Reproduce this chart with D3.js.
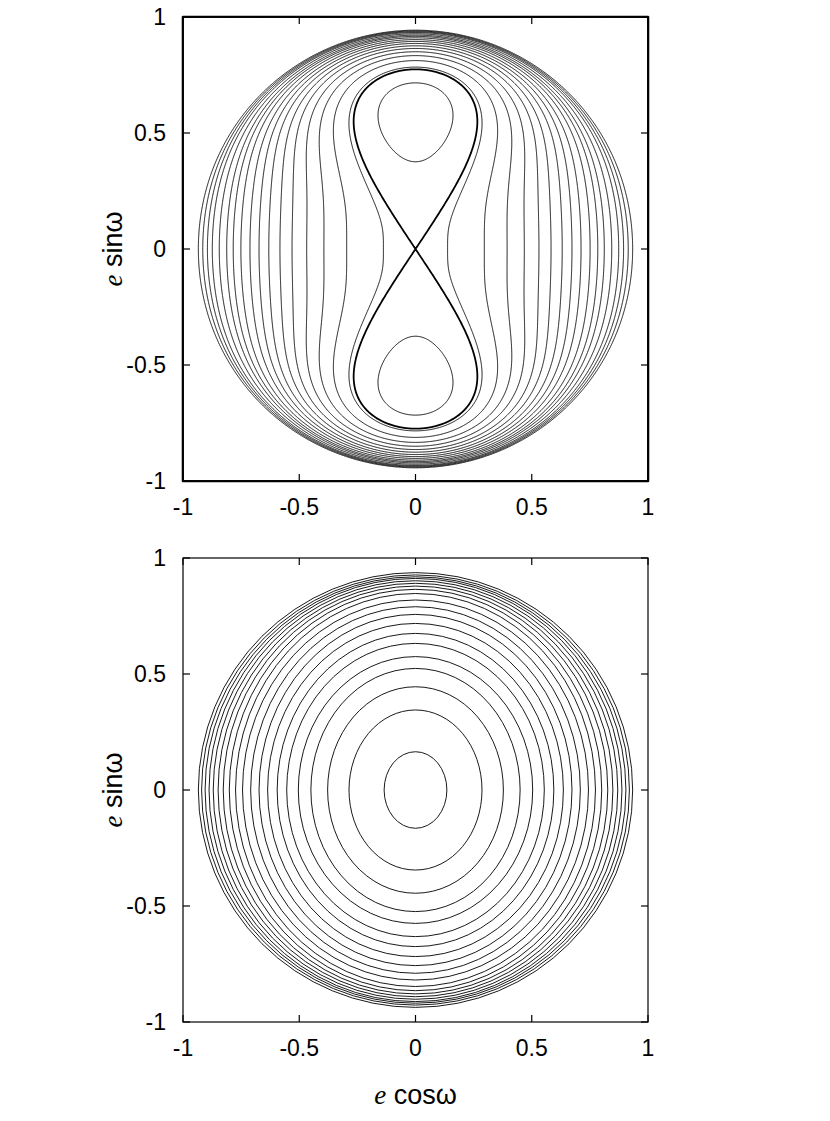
<!DOCTYPE html>
<html>
<head>
<meta charset="utf-8">
<script src="https://cdn.jsdelivr.net/npm/d3@7"></script>
<style>
  body { margin: 0; background: #fff; }
  text { font-family: "Liberation Sans", Arial, sans-serif; fill: #000; }
  .ital { font-family: "Liberation Serif", "DejaVu Serif", serif; font-style: italic; }
</style>
</head>
<body>
<div id="chart"></div>
<script>
// tick values shared by both panels
const ticks = [-1, -0.5, 0, 0.5, 1];

// top panel: where each circulating contour crosses the e cosw axis
const topCrossX = [-0.934, -0.915, -0.895, -0.874, -0.844, -0.812, -0.784, -0.751, -0.712,
                   -0.673, -0.631, -0.583, -0.531, -0.468, -0.394, -0.296, -0.138];
// top panel: libration contour crossing on the e sinw axis (lower edge of the island)
const topIslandCrossY = [0.376];
// separatrix goes through the origin
const topSeparatrix = [[0, 0]];

// bottom panel: semi axes of each closed contour (e cosw and e sinw crossings)
const botCrossX = [0.135, 0.286, 0.378, 0.450, 0.504, 0.554, 0.595, 0.636, 0.673, 0.709,
                   0.744, 0.774, 0.801, 0.827, 0.849, 0.870, 0.888, 0.905, 0.920, 0.934];
const botCrossY = [0.165, 0.345, 0.445, 0.524, 0.575, 0.632, 0.675, 0.718, 0.757, 0.790,
                   0.819, 0.847, 0.865, 0.879, 0.891, 0.902, 0.912, 0.919, 0.927, 0.937];

// model for the top panel: quadrupole Kozai energy, e scaled so e_max sits on
// the plotted circle, and a slight squeeze of the angle towards w = 90 deg
const THETA = 0.33, RHO_MAX = 0.945, BETA = 0.11;
const EMAX = Math.sqrt(1 - THETA);

const W = 830, H = 1121;
const svg = d3.select('#chart').append('svg')
    .attr('width', W)
    .attr('height', H);

const x = d3.scaleLinear().domain([-1, 1]).range([183, 648]);
const yTop = d3.scaleLinear().domain([-1, 1]).range([481, 17]);
const yBot = d3.scaleLinear().domain([-1, 1]).range([1022, 558]);

function kozai(px, py) {
    const rho = Math.sqrt(px * px + py * py);
    const cb = 2 * (2 + 3 * EMAX * EMAX);
    if (rho >= RHO_MAX) return cb + (rho - RHO_MAX) * 1000;
    if (rho === 0) return 2 * (3 * THETA - 1);
    const e = EMAX * rho / RHO_MAX;
    const e2 = e * e;
    const phi = Math.atan2(py, px);
    const w = phi - BETA * Math.sin(2 * phi);
    const c = Math.min(1, THETA / (1 - e2));
    return (2 + 3 * e2) * (3 * c - 1) + 15 * (1 - c) * e2 * Math.cos(2 * w);
}

function drawFrame(g, y, showXLabel) {
    const [x0, x1] = x.range();
    const [y0, y1] = y.range();
    const tl = 7;
    g.append('rect')
        .attr('x', x0).attr('y', y1)
        .attr('width', x1 - x0).attr('height', y0 - y1)
        .attr('fill', 'none').attr('stroke', '#000').attr('stroke-width', 1.2);
    ticks.forEach(t => {
        g.append('line').attr('x1', x(t)).attr('x2', x(t)).attr('y1', y0).attr('y2', y0 - tl)
            .attr('stroke', '#000').attr('stroke-width', 1.2);
        g.append('line').attr('x1', x(t)).attr('x2', x(t)).attr('y1', y1).attr('y2', y1 + tl)
            .attr('stroke', '#000').attr('stroke-width', 1.2);
        g.append('line').attr('x1', x0).attr('x2', x0 + tl).attr('y1', y(t)).attr('y2', y(t))
            .attr('stroke', '#000').attr('stroke-width', 1.2);
        g.append('line').attr('x1', x1).attr('x2', x1 - tl).attr('y1', y(t)).attr('y2', y(t))
            .attr('stroke', '#000').attr('stroke-width', 1.2);
        g.append('text').text(t)
            .attr('x', x(t)).attr('y', y0 + 34)
            .attr('text-anchor', 'middle').attr('font-size', 23);
        g.append('text').text(t)
            .attr('x', x0 - 17).attr('y', y(t) + 8)
            .attr('text-anchor', 'end').attr('font-size', 23);
    });
    const yl = g.append('text')
        .attr('transform', `translate(122,${y(0)}) rotate(-90)`)
        .attr('text-anchor', 'middle').attr('font-size', 27);
    yl.append('tspan').attr('class', 'ital').text('e');
    yl.append('tspan').text(' sinω');
    if (showXLabel) {
        const xl = g.append('text')
            .attr('x', x(0)).attr('y', y0 + 82)
            .attr('text-anchor', 'middle').attr('font-size', 27);
        xl.append('tspan').attr('class', 'ital').text('e');
        xl.append('tspan').text(' cosω');
    }
}

// ---- top panel: contours of the field
const n = 601, step = 2 / (n - 1);
const values = new Float64Array(n * n);
for (let j = 0; j < n; j++) {
    for (let i = 0; i < n; i++) {
        values[i + j * n] = kozai(-1 + i * step, 1 - j * step);
    }
}
const gridToPx = d3.geoTransform({
    point: function (gx, gy) {
        this.stream.point(x(-1 + (gx - 0.5) * step), yTop(1 - (gy - 0.5) * step));
    }
});
const path = d3.geoPath(gridToPx);

const thinLevels = topCrossX.map(v => kozai(v, 0))
    .concat(topIslandCrossY.map(v => kozai(0, v)));
const sepLevels = topSeparatrix.map(p => kozai(p[0], p[1]));

const gTop = svg.append('g');
gTop.append('g').selectAll('path')
    .data(d3.contours().size([n, n]).thresholds(thinLevels)(values))
    .join('path')
    .attr('d', path)
    .attr('fill', 'none')
    .attr('stroke', '#000')
    .attr('stroke-width', 0.9);
gTop.append('g').selectAll('path')
    .data(d3.contours().size([n, n]).thresholds(sepLevels)(values))
    .join('path')
    .attr('d', path)
    .attr('fill', 'none')
    .attr('stroke', '#000')
    .attr('stroke-width', 1.8);
drawFrame(gTop, yTop, false);

// ---- bottom panel: closed contours around e = 0
const gBot = svg.append('g');
gBot.append('g').selectAll('ellipse')
    .data(d3.zip(botCrossX, botCrossY))
    .join('ellipse')
    .attr('cx', x(0))
    .attr('cy', yBot(0))
    .attr('rx', d => x(d[0]) - x(0))
    .attr('ry', d => yBot(0) - yBot(d[1]))
    .attr('fill', 'none')
    .attr('stroke', '#000')
    .attr('stroke-width', 0.9);
drawFrame(gBot, yBot, true);
</script>
</body>
</html>
